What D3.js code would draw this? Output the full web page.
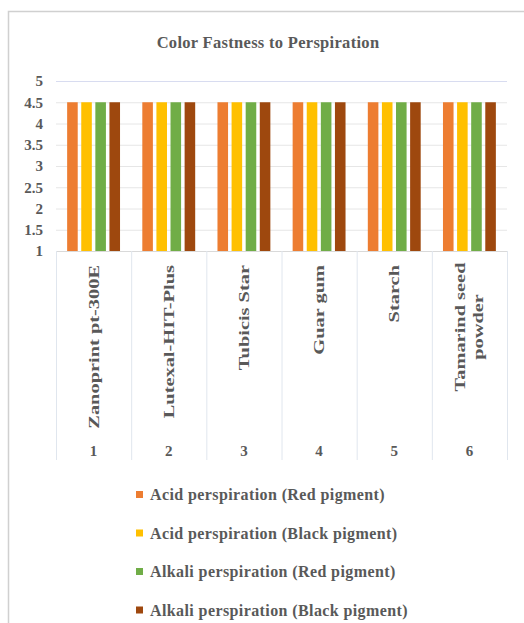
<!DOCTYPE html>
<html>
<head>
<meta charset="utf-8">
<script src="https://cdn.jsdelivr.net/npm/d3@7"></script>
<style>
  html, body { margin: 0; padding: 0; background: #fff; }
  svg { display: block; }
  text { font-family: "Liberation Serif", "Times New Roman", serif; font-weight: bold; fill: #595959; }
</style>
</head>
<body>
<svg id="chart" width="524" height="623"></svg>
<script>
// Pigment printing thickeners tested for color fastness to perspiration
const categories = ["1", "2", "3", "4", "5", "6"];
const thickeners = ["Zanoprint pt-300E", "Lutexal-HIT-Plus", "Tubicis Star", "Guar gum", "Starch", ["Tamarind seed", "powder"]];
const seriesNames = [
  "Acid perspiration (Red pigment)",
  "Acid perspiration (Black pigment)",
  "Alkali perspiration (Red pigment)",
  "Alkali perspiration (Black pigment)"
];
const acidRed    = [4.5, 4.5, 4.5, 4.5, 4.5, 4.5];
const acidBlack  = [4.5, 4.5, 4.5, 4.5, 4.5, 4.5];
const alkaliRed  = [4.5, 4.5, 4.5, 4.5, 4.5, 4.5];
const alkaliBlack = [4.5, 4.5, 4.5, 4.5, 4.5, 4.5];
const yTicks = [1, 1.5, 2, 2.5, 3, 3.5, 4, 4.5, 5];
const colors = ["#ED7D31", "#FFC000", "#70AD47", "#9E480E"];

const seriesValues = [acidRed, acidBlack, alkaliRed, alkaliBlack];

const svg = d3.select("#chart");

// chart frame (cropped on the right and bottom)
svg.append("path")
  .attr("d", "M8.5,640 V11.5 H540")
  .attr("fill", "none")
  .attr("stroke", "#d0d0d0")
  .attr("stroke-width", 1.5);

// title
svg.append("text")
  .attr("x", 268).attr("y", 48)
  .attr("text-anchor", "middle")
  .style("font-size", "16.5px")
  .style("letter-spacing", "0.3px")
  .text("Color Fastness to Perspiration");

const plot = { left: 56, right: 507, top: 81, bottom: 251 };

const y = d3.scaleLinear().domain([1, 5]).range([plot.bottom, plot.top]);
const x0 = d3.scaleBand().domain(categories).range([plot.left, plot.right]).padding(0);
const x1 = d3.scaleBand().domain(d3.range(seriesNames.length))
  .range([0, x0.bandwidth()]).paddingInner(0.25).paddingOuter(0.79);

// horizontal gridlines
svg.append("g").selectAll("line").data(yTicks.filter(t => t > 1)).join("line")
  .attr("x1", plot.left).attr("x2", plot.right)
  .attr("y1", d => y(d) + 0.5).attr("y2", d => y(d) + 0.5)
  .attr("stroke", d => d === 5 ? "#d8dcf0" : "#e6e6e6")
  .attr("stroke-width", 1);

// y axis labels
const yAxis = d3.axisLeft(y).tickValues(yTicks).tickSize(0).tickPadding(0)
  .tickFormat(d => String(d));
const gy = svg.append("g").attr("transform", `translate(43,0)`).call(yAxis);
gy.select(".domain").remove();
gy.selectAll("text").style("font-size", "15px").attr("fill", "#595959")
  .style("font-family", "\"Liberation Serif\", serif").style("font-weight", "bold");

// bars
const barData = [];
categories.forEach((c, i) => {
  seriesValues.forEach((vals, s) => barData.push({ cat: c, s, v: vals[i] }));
});
svg.append("g").selectAll("rect").data(barData).join("rect")
  .attr("x", d => x0(d.cat) + x1(d.s))
  .attr("width", x1.bandwidth())
  .attr("y", d => y(d.v))
  .attr("height", d => y(1) - y(d.v))
  .attr("fill", d => colors[d.s]);

// category axis: baseline and group separators
const axisBottom = 460;
svg.append("line")
  .attr("x1", plot.left).attr("x2", plot.right)
  .attr("y1", plot.bottom + 0.5).attr("y2", plot.bottom + 0.5)
  .attr("stroke", "#d9d9d9");
const edges = categories.map(c => x0(c)).concat([plot.right]);
svg.append("g").selectAll("line").data(edges).join("line")
  .attr("x1", d => d + 0.5).attr("x2", d => d + 0.5)
  .attr("y1", plot.bottom).attr("y2", axisBottom)
  .attr("stroke", "#e0e6ee");

// rotated thickener names
const nameG = svg.append("g");
categories.forEach((c, i) => {
  const cx = x0(c) + x0.bandwidth() / 2;
  const lines = Array.isArray(thickeners[i]) ? thickeners[i] : [thickeners[i]];
  const lineGap = 18;
  lines.forEach((ln, k) => {
    const off = (k - (lines.length - 1) / 2) * lineGap;
    const anchor = lines.length > 1 ? "middle" : "end";
    const ty = lines.length > 1 ? 327 : 265;
    nameG.append("text")
      .attr("transform", `translate(${cx + off + 5},${ty}) rotate(-90) scale(1.36,1)`)
      .attr("text-anchor", anchor)
      .style("font-size", "15px")
      .text(ln);
  });
  svg.append("text")
    .attr("x", cx).attr("y", 456)
    .attr("text-anchor", "middle")
    .style("font-size", "15px")
    .text(c);
});

// legend
const legend = svg.append("g");
seriesNames.forEach((name, i) => {
  const ly = 495 + i * 38.5;
  legend.append("rect")
    .attr("x", 136).attr("y", ly - 4).attr("width", 7).attr("height", 7)
    .attr("fill", colors[i]);
  legend.append("text")
    .attr("x", 150).attr("y", ly + 5)
    .style("font-size", "16px")
    .style("letter-spacing", "0.4px")
    .text(name);
});
</script>
</body>
</html>
